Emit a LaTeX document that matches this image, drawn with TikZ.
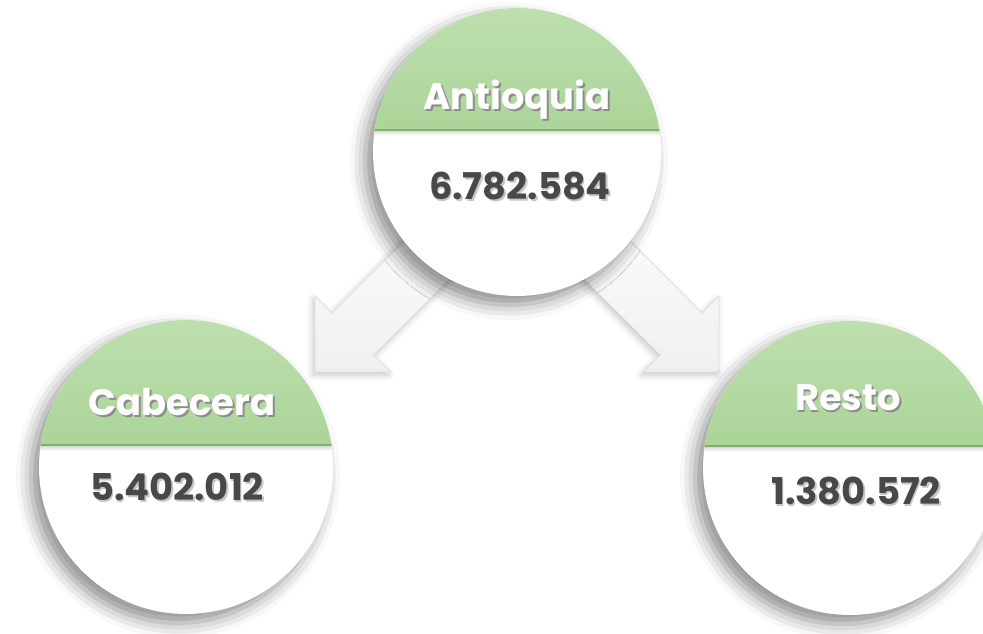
\documentclass[tikz,border=0pt]{standalone}
\usepackage{fontspec}
\setmainfont{Poppins}
\usetikzlibrary{shadows.blur}

\definecolor{capTop}{RGB}{190,223,175}
\definecolor{capBot}{RGB}{146,198,122}
\definecolor{capEdge}{RGB}{128,178,108}
\definecolor{numGray}{RGB}{72,72,72}

% text with a small drop shadow
\newcommand{\shadowed}[2]{\makebox[0pt][l]{\hspace{1pt}\raisebox{-1pt}{\color{#2}#1}}#1}

\begin{document}
\begin{tikzpicture}[x=0.02cm, y=0.02cm,
    bubble/.style = {circle, fill=white, inner sep=0pt,
        blur shadow={shadow xshift=-0.16cm, shadow yshift=-0.18cm,
            shadow blur radius=0.30cm, shadow opacity=45},
        path picture={
            \shade[top color=capTop, bottom color=capBot]
                ([yshift=0.44cm]path picture bounding box.west)
                rectangle (path picture bounding box.north east);
            \shade[top color=black!18, bottom color=white]
                ([yshift=0.44cm]path picture bounding box.west)
                rectangle ([yshift=0.33cm]path picture bounding box.east);
            \draw[capEdge, line width=0.6pt]
                ([yshift=0.44cm]path picture bounding box.west)
                -- ([yshift=0.44cm]path picture bounding box.east);
        }},
    title/.style = {text=white, inner sep=0pt, text height=14pt, text depth=0pt,
        font=\fontsize{21}{21}\selectfont\bfseries},
    count/.style = {text=numGray, inner sep=0pt, text height=14pt, text depth=0pt,
        font=\fontsize{21}{21}\selectfont\bfseries},
    bigarrow/.style = {draw=black!13, line width=0.5pt, line join=round,
        top color=white, bottom color=black!6,
        blur shadow={shadow xshift=-0.04cm, shadow yshift=-0.06cm,
            shadow blur radius=0.12cm, shadow opacity=22}}]

\useasboundingbox (0,0) rectangle (983,633);
\clip (0,0) rectangle (983,633);

% Antioquia (placed first, arrows hang from it)
\path (517,481) coordinate (top);

% Arrows
\foreach \s in {1,-1} {
    \begin{scope}[shift={(top)}, xscale=\s]
        \path[bigarrow] (-202,-220) -- (-202,-144) -- (-185,-161)
            -- (-55,-31) -- (-13,-73) -- (-143,-203) -- (-126,-220) -- cycle;
    \end{scope}
}

% Antioquia
\node[bubble, minimum size=5.76cm] (antioquia) at (top) {};
\node[title] (antioquiaName) at ([yshift=1.10cm]antioquia.center)
    {\shadowed{Antioquia}{black!45}};
\node[count] (antioquiaNum) at ([xshift=0.06cm, yshift=-0.70cm]antioquia.center)
    {\shadowed{6.782.584}{black!22}};

% Cabecera
\node[bubble, minimum size=5.88cm] (cabecera) at (186,166) {};
\node[title] (cabeceraName) at ([xshift=-0.08cm, yshift=1.28cm]cabecera.center)
    {\shadowed{Cabecera}{black!45}};
\node[count] (cabeceraNum) at ([xshift=-0.18cm, yshift=-0.42cm]cabecera.center)
    {\shadowed{5.402.012}{black!22}};

% Resto
\node[bubble, minimum size=5.88cm] (resto) at (850,165) {};
\node[title] (restoName) at ([xshift=-0.04cm, yshift=1.40cm]resto.center)
    {\shadowed{Resto}{black!45}};
\node[count] (restoNum) at ([xshift=0.12cm, yshift=-0.48cm]resto.center)
    {\shadowed{1.380.572}{black!22}};
\end{tikzpicture}
\end{document}
